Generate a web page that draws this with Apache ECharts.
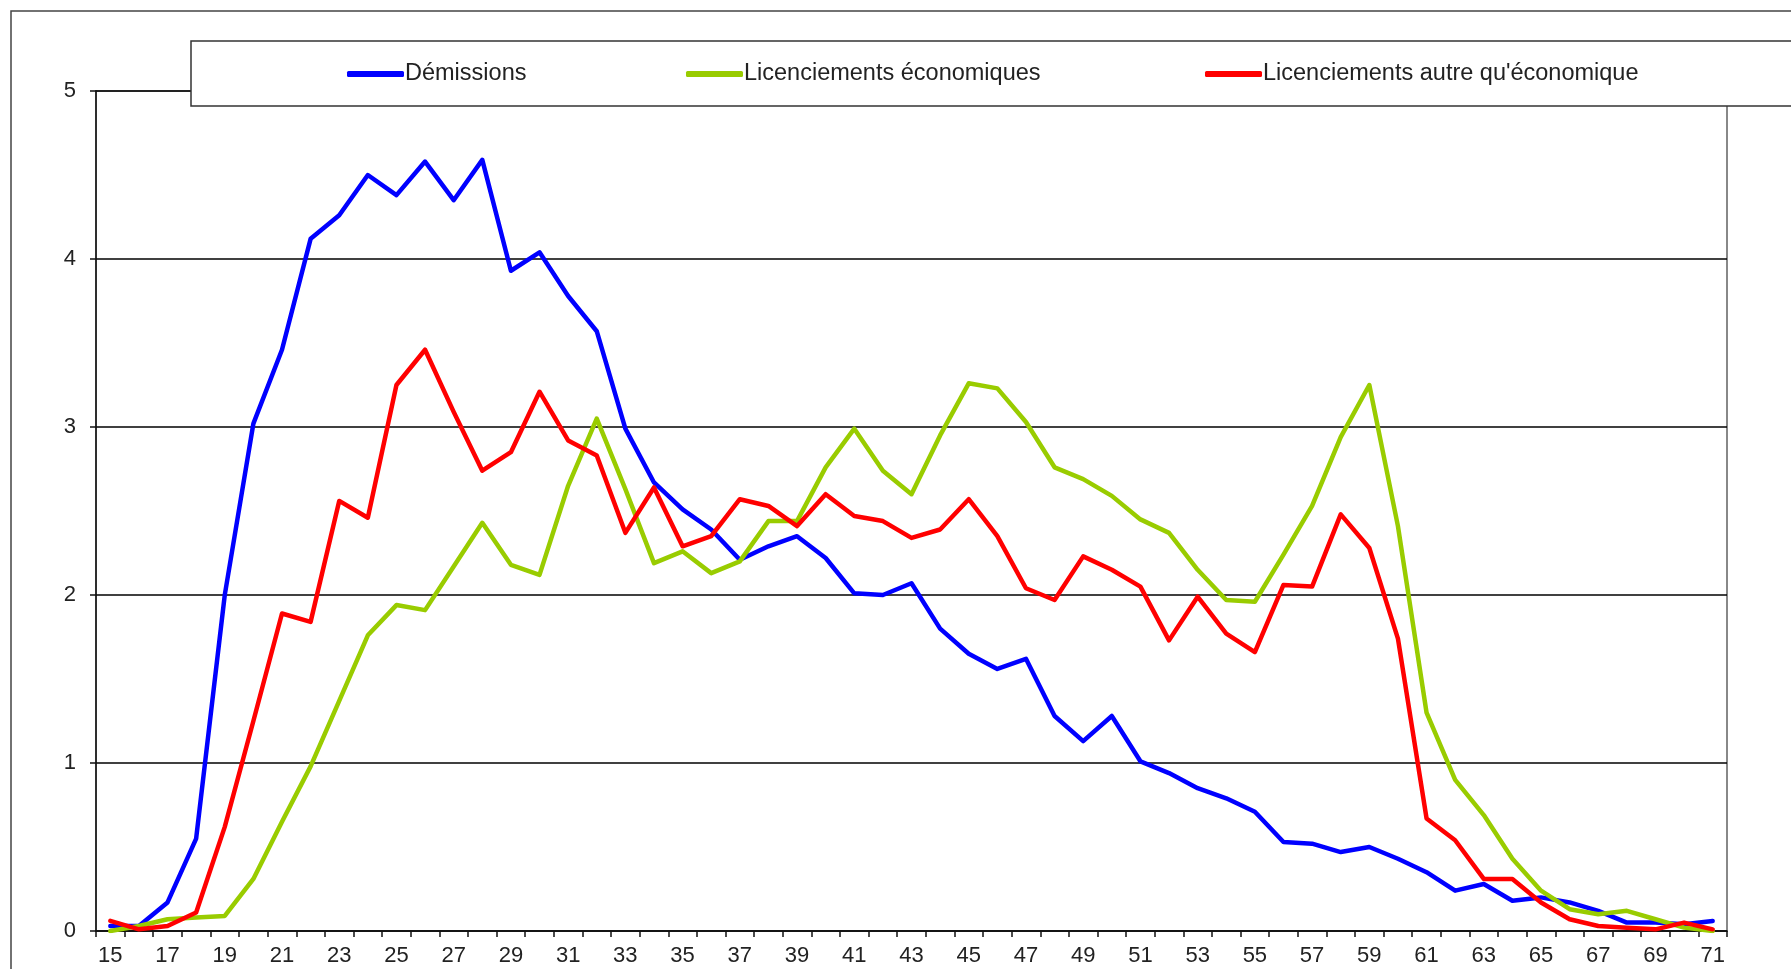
<!DOCTYPE html>
<html>
<head>
<meta charset="utf-8">
<title>Sorties par âge</title>
<script src="https://cdn.jsdelivr.net/npm/echarts@6/dist/echarts.min.js"></script>
<style>
  html, body { margin: 0; padding: 0; background: #fff; }
  #main { width: 1791px; height: 969px; }
</style>
</head>
<body>
<div id="main"></div>
<script>
// ages (axe des x)
const ages = ['15','16','17','18','19','20','21','22','23','24','25','26','27','28','29','30',
  '31','32','33','34','35','36','37','38','39','40','41','42','43','44','45','46','47','48',
  '49','50','51','52','53','54','55','56','57','58','59','60','61','62','63','64','65','66',
  '67','68','69','70','71']

const yTicks = [0, 1, 2, 3, 4, 5]

const demissions = [0.03, 0.03, 0.17, 0.55, 2.00, 3.02, 3.46, 4.12, 4.26, 4.50, 4.38, 4.58,
  4.35, 4.59, 3.93, 4.04, 3.78, 3.57, 2.99, 2.67, 2.51, 2.39, 2.21, 2.29, 2.35, 2.22, 2.01,
  2.00, 2.07, 1.80, 1.65, 1.56, 1.62, 1.28, 1.13, 1.28, 1.01, 0.94, 0.85, 0.79, 0.71, 0.53,
  0.52, 0.47, 0.50, 0.43, 0.35, 0.24, 0.28, 0.18, 0.20, 0.17, 0.12, 0.05, 0.05, 0.04, 0.06]

const licEco = [0.00, 0.03, 0.07, 0.08, 0.09, 0.31, 0.65, 0.98, 1.37, 1.76, 1.94, 1.91,
  2.17, 2.43, 2.18, 2.12, 2.65, 3.05, 2.63, 2.19, 2.26, 2.13, 2.20, 2.44, 2.44, 2.76, 2.99,
  2.74, 2.60, 2.95, 3.26, 3.23, 3.03, 2.76, 2.69, 2.59, 2.45, 2.37, 2.15, 1.97, 1.96, 2.24,
  2.53, 2.94, 3.25, 2.41, 1.30, 0.90, 0.69, 0.43, 0.24, 0.13, 0.10, 0.12, 0.07, 0.02, 0.00]

const licAutre = [0.06, 0.01, 0.03, 0.11, 0.62, 1.25, 1.89, 1.84, 2.56, 2.46, 3.25, 3.46,
  3.09, 2.74, 2.85, 3.21, 2.92, 2.83, 2.37, 2.64, 2.29, 2.35, 2.57, 2.53, 2.41, 2.60, 2.47,
  2.44, 2.34, 2.39, 2.57, 2.35, 2.04, 1.97, 2.23, 2.15, 2.05, 1.73, 1.99, 1.77, 1.66, 2.06,
  2.05, 2.48, 2.28, 1.74, 0.67, 0.54, 0.31, 0.31, 0.17, 0.07, 0.03, 0.02, 0.01, 0.05, 0.01]

const seriesNames = ['Démissions', 'Licenciements économiques', "Licenciements autre qu'économique"]
const seriesColors = ['#0000ff', '#99cc00', '#ff0000']
const legendLefts = [342, 681, 1200]

const font = "'Liberation Sans', Arial, sans-serif"

const chart = echarts.init(document.getElementById('main'))

// une légende par série pour placer chaque entrée comme dans l'original
const legends = seriesNames.map((name, i) => ({
  data: [name],
  left: legendLefts[i],
  top: 57,
  z: 10,
  icon: 'roundRect',
  itemWidth: 57,
  itemHeight: 6,
  itemGap: 0,
  textStyle: { fontFamily: font, fontSize: 23.5, color: '#222', padding: [0, 0, 0, -4] }
}))

const option = {
  animation: false,
  backgroundColor: '#fff',
  textStyle: { fontFamily: font },
  legend: legends,
  graphic: [
    {
      type: 'rect',
      z: 1,
      silent: true,
      shape: { x: 11, y: 11, width: 1800, height: 1000 },
      style: { fill: 'none', stroke: '#444', lineWidth: 1.5 }
    },
    {
      type: 'rect',
      z: 3,
      silent: true,
      shape: { x: 191, y: 41, width: 1700, height: 65 },
      style: { fill: '#fff', stroke: '#333', lineWidth: 1.5 }
    }
  ],
  grid: {
    left: 96,
    right: 64,
    top: 91,
    bottom: 38,
    show: true,
    borderColor: '#888',
    borderWidth: 2
  },
  xAxis: {
    type: 'category',
    data: ages,
    boundaryGap: true,
    axisLine: { lineStyle: { color: '#111', width: 1.5 } },
    axisTick: { show: true, interval: 0, length: 6, lineStyle: { color: '#111', width: 1.5 } },
    axisLabel: { interval: 1, margin: 14, fontSize: 22, color: '#222', fontFamily: font },
    splitLine: { show: false }
  },
  yAxis: {
    type: 'value',
    min: yTicks[0],
    max: yTicks[yTicks.length - 1],
    interval: 1,
    axisLine: { show: true, lineStyle: { color: '#111', width: 1.5 } },
    axisTick: { show: true, length: 6, lineStyle: { color: '#111', width: 1.5 } },
    axisLabel: { margin: 20, fontSize: 22, color: '#222', fontFamily: font },
    splitLine: { show: true, lineStyle: { color: '#000', width: 1.5 } }
  },
  series: [demissions, licEco, licAutre].map((vals, i) => ({
    name: seriesNames[i],
    type: 'line',
    data: vals,
    symbol: 'none',
    color: seriesColors[i],
    lineStyle: { width: 4.5, color: seriesColors[i], cap: 'round', join: 'round' },
    z: 2
  }))
}

chart.setOption(option)
</script>
</body>
</html>
